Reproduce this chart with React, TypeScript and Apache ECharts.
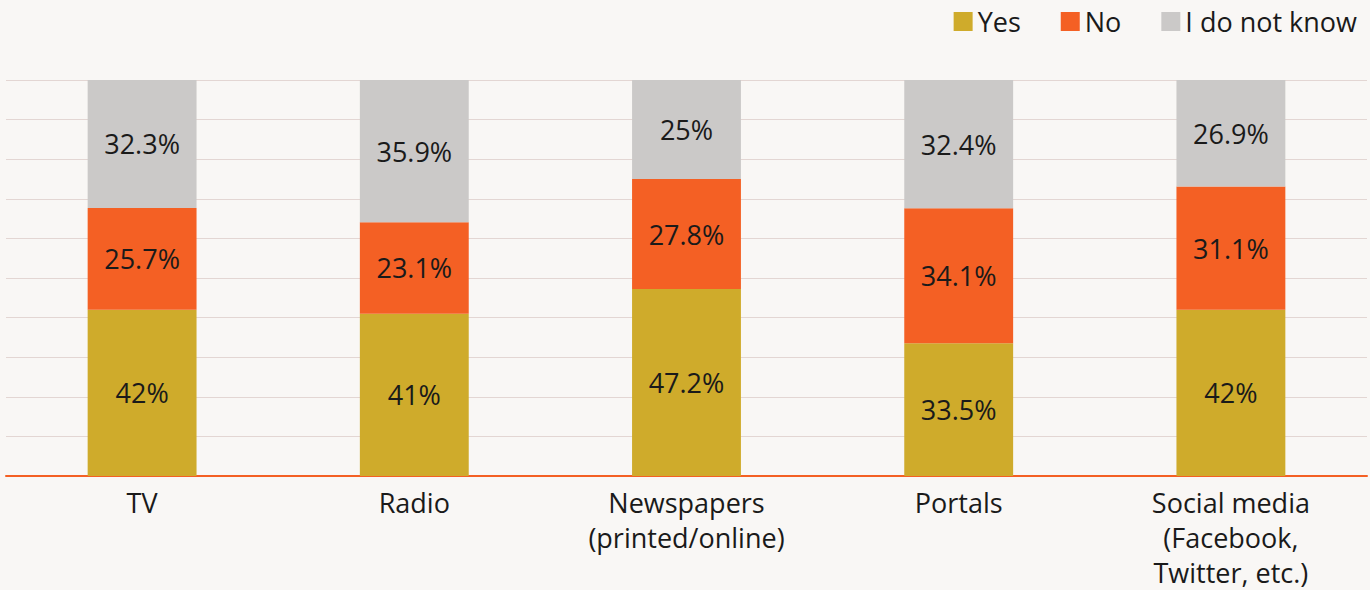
import React, { useEffect, useRef } from "react";
import * as echarts from "echarts";

const categories = ["TV", "Radio", "Newspapers\n(printed/online)", "Portals", "Social media\n(Facebook,\nTwitter, etc.)"];
const yesValues = [42, 41, 47.2, 33.5, 42];
const noValues = [25.7, 23.1, 27.8, 34.1, 31.1];
const dontKnowValues = [32.3, 35.9, 25, 32.4, 26.9];
const seriesNames = ["Yes", "No", "I do not know"];
const colors = ["#cfab2b", "#f46024", "#cbc9c8"];

const FONT = "'Open Sans', sans-serif";

export default function App() {
  const ref = useRef<HTMLDivElement>(null);
  useEffect(() => {
    if (!ref.current) return;
    document.body.style.margin = "0";
    document.body.style.overflow = "hidden";
    const chart = echarts.init(ref.current, undefined, { renderer: "svg", width: 1370, height: 590 });
    const data = [yesValues, noValues, dontKnowValues];
    chart.setOption({
      animation: false,
      backgroundColor: "#f9f7f5",
      textStyle: { fontFamily: FONT },
      legend: {
        right: 8,
        top: 3,
        icon: "rect",
        itemWidth: 19,
        itemHeight: 19,
        itemGap: 40,
        textStyle: { fontSize: 27, lineHeight: 27, color: "#1a1a1a", fontFamily: FONT },
        data: seriesNames,
      },
      grid: { left: 6, right: 3, top: 80, bottom: 107, containLabel: false },
      xAxis: {
        type: "category",
        data: categories,
        axisLine: { lineStyle: { color: "#f46024", width: 2 } },
        axisTick: { show: false },
        axisLabel: { fontSize: 27, color: "#1a1a1a", lineHeight: 35, margin: 9, fontFamily: FONT, interval: 0 },
      },
      yAxis: {
        type: "value",
        min: 0,
        max: 100,
        interval: 10,
        axisLabel: { show: false },
        axisLine: { show: false },
        axisTick: { show: false },
        splitLine: { lineStyle: { color: "#e3d6d3", width: 1 } },
      },
      series: seriesNames.map((name, i) => ({
        name,
        type: "bar",
        stack: "total",
        barWidth: "40%",
        data: data[i],
        itemStyle: { color: colors[i] },
        label: {
          show: true,
          position: "inside",
          fontSize: 27,
          color: "#1a1a1a",
          fontFamily: FONT,
          formatter: (p: any) => `${p.value}%`,
        },
      })),
    });
    return () => chart.dispose();
  }, []);
  return <div ref={ref} style={{ width: 1370, height: 590 }} />;
}
